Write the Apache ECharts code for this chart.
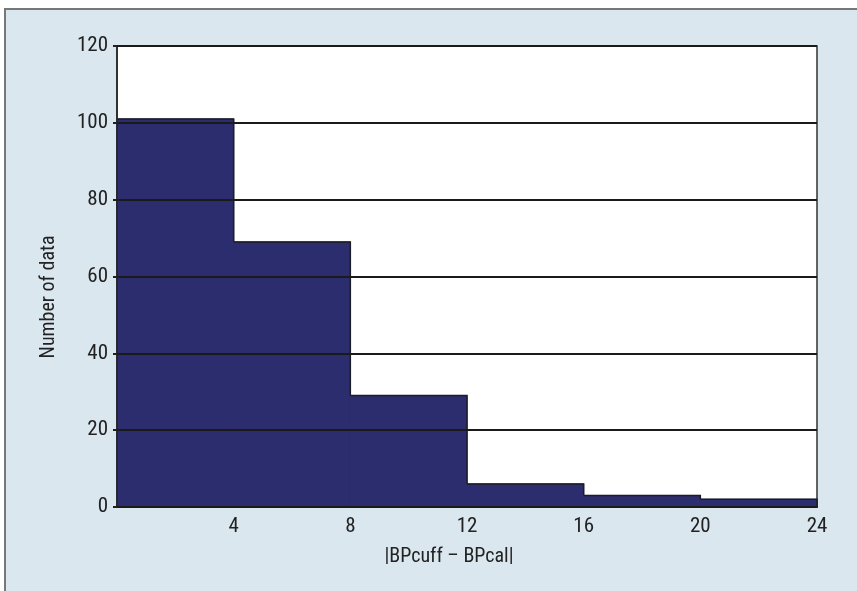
<!DOCTYPE html>
<html>
<head>
<meta charset="utf-8">
<script src="https://cdn.jsdelivr.net/npm/echarts@6/dist/echarts.min.js"></script>
<style>
html,body{margin:0;padding:0;background:#fff;}
#chart{width:857px;height:591px;}
</style>
</head>
<body>
<div id="chart"></div>
<script>
var binStarts = [0, 4, 8, 12, 16, 20];
var binEnds = [4, 8, 12, 16, 20, 24];
var counts = [101, 69, 29, 6, 3, 2];
var xTicks = [4, 8, 12, 16, 20, 24];
var yTicks = [0, 20, 40, 60, 80, 100, 120];
var xTitle = '|BPcuff \u2013 BPcal|';
var yTitle = 'Number of data';

var FONT = '"Roboto Condensed", "Liberation Sans Narrow", sans-serif';
var data = binStarts.map(function (s, i) { return [s, binEnds[i], counts[i]]; });

var chart = echarts.init(document.getElementById('chart'));
chart.setOption({
  animation: false,
  backgroundColor: '#ffffff',
  graphic: [{
    type: 'rect', z: -10, silent: true,
    shape: { x: 5, y: 9, width: 870, height: 600 },
    style: { fill: '#dae7ef', stroke: '#777777', lineWidth: 2 }
  }, {
    type: 'text', z: 10, silent: true,
    x: 449, y: 557,
    style: { text: xTitle, fontFamily: FONT, fontSize: 20, fill: '#222', align: 'center', verticalAlign: 'middle' }
  }, {
    type: 'text', z: 10, silent: true,
    x: 49, y: 297, rotation: Math.PI / 2,
    style: { text: yTitle, fontFamily: FONT, fontSize: 20, fill: '#222', align: 'center', verticalAlign: 'middle' }
  }],
  grid: {
    left: 117, right: 40, top: 46, bottom: 84,
    show: true, backgroundColor: '#ffffff', borderColor: '#333333', borderWidth: 1.5
  },
  xAxis: {
    type: 'value', min: 0, max: 24, interval: 4,
    axisLine: { show: true, lineStyle: { color: '#222', width: 2 } },
    axisTick: { show: false },
    splitLine: { show: false },
    axisLabel: {
      fontFamily: FONT, fontSize: 21, color: '#222', margin: 9,
      formatter: function (v) { return xTicks.indexOf(v) >= 0 ? String(v) : ''; }
    }
  },
  yAxis: {
    type: 'value', min: 0, max: 120, interval: 20, z: 5,
    axisLine: { show: true, lineStyle: { color: '#222', width: 1.5 } },
    axisTick: { show: true, inside: false, length: 4, lineStyle: { color: '#222', width: 2 } },
    splitLine: { show: true, lineStyle: { color: '#1a1a1a', width: 2 } },
    axisLabel: {
      fontFamily: FONT, fontSize: 21, color: '#222', margin: 9,
      formatter: function (v) { return yTicks.indexOf(v) >= 0 ? String(v) : ''; }
    }
  },
  series: [{
    type: 'custom',
    z: 2,
    data: data,
    encode: { x: [0, 1], y: 2 },
    renderItem: function (params, api) {
      var i = params.dataIndex;
      var p0 = api.coord([api.value(0), 0]);
      var p1 = api.coord([api.value(1), api.value(2)]);
      var nextVal = i + 1 < counts.length ? counts[i + 1] : 0;
      var pn = api.coord([api.value(1), nextVal]);
      return {
        type: 'group',
        children: [{
          type: 'rect',
          shape: { x: p0[0], y: p1[1], width: p1[0] - p0[0], height: p0[1] - p1[1] },
          style: { fill: '#2c2d6e', stroke: '#2c2d6e', lineWidth: 1 }
        }, {
          type: 'polyline',
          shape: { points: [[p0[0], p1[1]], [p1[0], p1[1]], [p1[0], pn[1]]] },
          style: { fill: null, stroke: '#1c1c24', lineWidth: 1.5 }
        }]
      };
    }
  }]
});
</script>
</body>
</html>
